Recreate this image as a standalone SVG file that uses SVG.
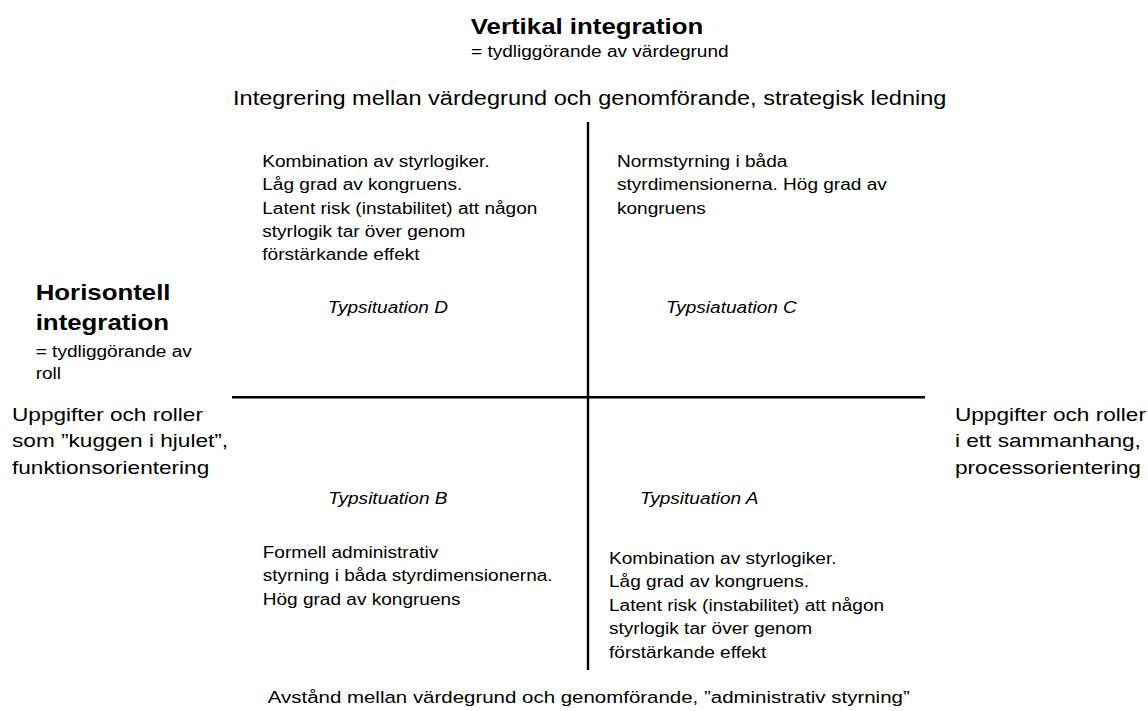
<svg xmlns="http://www.w3.org/2000/svg" width="1148" height="711" viewBox="0 0 1148 711">
<style>
text{font-family:"Liberation Sans",Arial,sans-serif;fill:#000}
.b{font-weight:bold;font-size:21.7px}
.s{font-size:16px}
.m{font-size:19px}
.i{font-size:16px;font-style:italic}
.ax{stroke:#000;stroke-width:2.4;fill:none}
</style>
<rect width="1148" height="711" fill="#fff"/>
<g id="connectors">
<line class="ax" x1="588" y1="122" x2="588" y2="670"/>
<line class="ax" x1="232" y1="397.3" x2="925" y2="397.3"/>
</g>
<g transform="scale(1.19 1)">
<g id="title">
<text class="b" x="493.3" y="34" text-anchor="middle">Vertikal integration</text>
<text class="s" x="395.8" y="57">= tydliggörande av värdegrund</text>
</g>
<g id="top-label"><text class="m" x="195.8" y="105" style="font-size:19.8px">Integrering mellan värdegrund och genomförande, strategisk ledning</text></g>
<g id="quadrant-D">
<text class="s" x="220.4" y="167">Kombination av styrlogiker.</text>
<text class="s" x="220.4" y="190.3">Låg grad av kongruens.</text>
<text class="s" x="220.4" y="213.6">Latent risk (instabilitet) att någon</text>
<text class="s" x="220.4" y="236.9">styrlogik tar över genom</text>
<text class="s" x="220.4" y="260.2">förstärkande effekt</text>
<text class="i" x="275.4" y="313.5">Typsituation D</text>
</g>
<g id="quadrant-C">
<text class="s" x="518.5" y="167">Normstyrning i båda</text>
<text class="s" x="518.5" y="190.3">styrdimensionerna. Hög grad av</text>
<text class="s" x="518.5" y="213.6">kongruens</text>
<text class="i" x="559.7" y="313.5">Typsiatuation C</text>
</g>
<g id="horizontal-title">
<text class="b" x="30" y="300">Horisontell</text>
<text class="b" x="30" y="330">integration</text>
<text class="s" x="30" y="357">= tydliggörande av</text>
<text class="s" x="30" y="379">roll</text>
</g>
<g id="left-label">
<text class="m" x="10.1" y="421">Uppgifter och roller</text>
<text class="m" x="10.1" y="447.5">som ”kuggen i hjulet”,</text>
<text class="m" x="10.1" y="474">funktionsorientering</text>
</g>
<g id="right-label">
<text class="m" x="802.5" y="421">Uppgifter och roller</text>
<text class="m" x="802.5" y="447.5">i ett sammanhang,</text>
<text class="m" x="802.5" y="474">processorientering</text>
</g>
<g id="quadrant-B">
<text class="i" x="275.9" y="504.5">Typsituation B</text>
<text class="s" x="220.8" y="558">Formell administrativ</text>
<text class="s" x="220.8" y="581.5">styrning i båda styrdimensionerna.</text>
<text class="s" x="220.8" y="605">Hög grad av kongruens</text>
</g>
<g id="quadrant-A">
<text class="i" x="537.8" y="504.5">Typsituation A</text>
<text class="s" x="511.8" y="564">Kombination av styrlogiker.</text>
<text class="s" x="511.8" y="587.5">Låg grad av kongruens.</text>
<text class="s" x="511.8" y="611">Latent risk (instabilitet) att någon</text>
<text class="s" x="511.8" y="634.5">styrlogik tar över genom</text>
<text class="s" x="511.8" y="658">förstärkande effekt</text>
</g>
<g id="bottom-label"><text class="m" x="225" y="703" style="font-size:17.2px">Avstånd mellan värdegrund och genomförande, ”administrativ styrning”</text></g>
</g>
</svg>
